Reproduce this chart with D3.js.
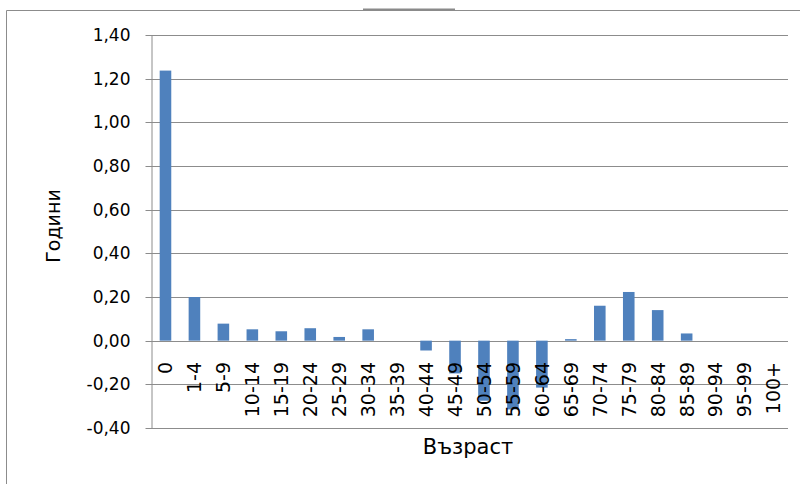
<!DOCTYPE html>
<html><head><meta charset="utf-8">
<script src="https://cdn.jsdelivr.net/npm/d3@7"></script>
<style>
html,body{margin:0;padding:0;background:#fff;}
svg{display:block;}
text{font-family:"DejaVu Sans",sans-serif;fill:#000;}
</style></head>
<body>
<svg id="chart" width="800" height="484"></svg>
<script>
const categories = ["0","1-4","5-9","10-14","15-19","20-24","25-29","30-34","35-39","40-44","45-49","50-54","55-59","60-64","65-69","70-74","75-79","80-84","85-89","90-94","95-99","100+"];
const values = [1.237,0.20,0.078,0.052,0.043,0.057,0.017,0.052,0.0,-0.045,-0.15,-0.275,-0.315,-0.215,0.007,0.16,0.223,0.14,0.033,0.0,0.0,0.0];
const yTicks = [-0.40,-0.20,0.00,0.20,0.40,0.60,0.80,1.00,1.20,1.40];
const yTitle = "Години";
const xTitle = "Възраст";

const svg = d3.select("#chart");
const plotLeft = 151, plotRight = 788, plotTop = 35, plotBottom = 428;

// chart area frame
svg.append("path").attr("d","M6.5,484 V10.5 H800").attr("fill","none").attr("stroke","#8c8c8c").attr("stroke-width",1);
svg.append("line").attr("x1",363).attr("x2",455).attr("y1",9.5).attr("y2",9.5).attr("stroke","#8a8a8a").attr("stroke-width",2);

const x = d3.scaleBand().domain(categories).range([plotLeft,plotRight]).paddingInner(0.6).paddingOuter(0.3);
const y = d3.scaleLinear().domain([-0.4,1.4]).range([plotBottom,plotTop]);

// gridlines
svg.append("g").selectAll("line").data(yTicks).join("line")
  .attr("x1",plotLeft).attr("x2",plotRight)
  .attr("y1",d=>Math.round(y(d))+0.5).attr("y2",d=>Math.round(y(d))+0.5)
  .attr("stroke","#8c8c8c").attr("stroke-width",1);

// y axis
const fmt = d => d3.format(".2f")(d).replace(".",",").replace("−","-");
const yAxis = svg.append("g").attr("transform",`translate(${plotLeft+0.5},0)`)
  .call(d3.axisLeft(y).tickValues(yTicks).tickFormat(fmt).tickSize(6).tickPadding(15).tickSizeOuter(0));
yAxis.select(".domain").attr("stroke","#8c8c8c");
yAxis.selectAll(".tick line").attr("stroke","#8c8c8c");
yAxis.selectAll(".tick").attr("transform",d=>`translate(0,${Math.round(y(d))+0.5})`);
yAxis.selectAll("text").attr("font-size",17).attr("font-family","DejaVu Sans").attr("fill","#000");

// bars
svg.append("g").selectAll("rect").data(values).join("rect")
  .attr("x",(d,i)=>x(categories[i]))
  .attr("width",x.bandwidth())
  .attr("y",d=>y(Math.max(0,d)))
  .attr("height",d=>Math.abs(y(d)-y(0)))
  .attr("fill","#4f81bd");

// x labels
svg.append("g").selectAll("text").data(categories).join("text")
  .attr("transform",d=>`translate(${x(d)+x.bandwidth()/2},362) rotate(-90)`)
  .attr("text-anchor","end").attr("dy","0.36em")
  .attr("font-size",19).text(d=>d);

// axis titles
svg.append("text").attr("transform","translate(60,226) rotate(-90)")
  .attr("text-anchor","middle").attr("font-size",19).text(yTitle);
svg.append("text").attr("x",468).attr("y",454)
  .attr("text-anchor","middle").attr("font-size",21).text(xTitle);
</script>
</body></html>
